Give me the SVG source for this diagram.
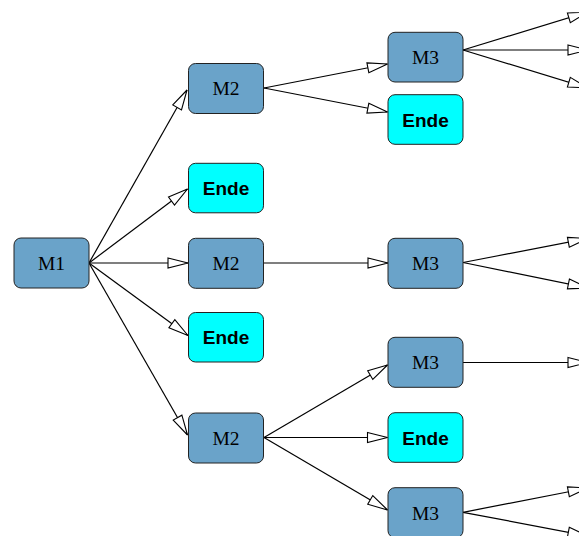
<svg xmlns="http://www.w3.org/2000/svg" width="579" height="536" viewBox="0 0 579 536">
<style>
.m rect{fill:#6aa3c9;stroke:#222;stroke-width:1}
.e rect{fill:#00ffff;stroke:#222;stroke-width:1}
.m text{font-family:"Liberation Serif","Times New Roman",serif;font-size:19.5px;fill:#000;text-anchor:middle}
.e text{font-family:"Liberation Sans",Arial,sans-serif;font-weight:bold;font-size:19px;fill:#000;text-anchor:middle}
#edges line{stroke:#000;stroke-width:1.2;fill:none;marker-end:url(#arr)}
</style>
<defs>
<marker id="arr" markerUnits="userSpaceOnUse" markerWidth="22" markerHeight="12" refX="20.5" refY="6" orient="auto" overflow="visible">
<path d="M0.5,1 L20.5,6 L0.5,11 Z" fill="#fff" stroke="#000" stroke-width="1.1"/>
</marker>
</defs>
<rect width="579" height="536" fill="#fff"/>
<g id="edges">
<line x1="89" y1="263" x2="187" y2="90"/>
<line x1="89" y1="263" x2="187.5" y2="189"/>
<line x1="89" y1="263" x2="188" y2="263"/>
<line x1="89" y1="263" x2="188" y2="335.5"/>
<line x1="89" y1="263" x2="187.5" y2="435"/>
<line x1="264" y1="88" x2="387.5" y2="64"/>
<line x1="264" y1="88" x2="387.5" y2="112"/>
<line x1="264" y1="263" x2="388" y2="263"/>
<line x1="264" y1="437.5" x2="387.5" y2="365"/>
<line x1="264" y1="437.5" x2="387.5" y2="437.5"/>
<line x1="264" y1="437.5" x2="387.5" y2="510"/>
<line x1="463" y1="50" x2="588" y2="12"/>
<line x1="463" y1="50" x2="588" y2="50"/>
<line x1="463" y1="50" x2="588" y2="88"/>
<line x1="463" y1="262.5" x2="588" y2="238.5"/>
<line x1="463" y1="262.5" x2="588" y2="288"/>
<line x1="463" y1="362.5" x2="588" y2="362.5"/>
<line x1="463" y1="512.3" x2="588" y2="488"/>
<line x1="463" y1="512.3" x2="588" y2="536"/>
</g>
<g id="m1" class="m"><rect x="14" y="238" width="75" height="50" rx="7"/><text x="51.5" y="270">M1</text></g>
<g id="m2a" class="m"><rect x="188.5" y="63.5" width="75" height="50" rx="7"/><text x="226" y="95.3">M2</text></g>
<g id="ende1" class="e"><rect x="188.5" y="163.3" width="75" height="49.5" rx="7"/><text x="226" y="195">Ende</text></g>
<g id="m2b" class="m"><rect x="188.5" y="238.3" width="75" height="50" rx="7"/><text x="226" y="270">M2</text></g>
<g id="ende2" class="e"><rect x="188.5" y="312.5" width="75" height="49.5" rx="7"/><text x="226" y="344">Ende</text></g>
<g id="m2c" class="m"><rect x="188.5" y="413" width="75" height="50" rx="7"/><text x="226" y="445">M2</text></g>
<g id="m3a" class="m"><rect x="388" y="32.3" width="75" height="49.7" rx="7"/><text x="425.5" y="64">M3</text></g>
<g id="ende3" class="e"><rect x="388" y="94.7" width="75" height="49.6" rx="7"/><text x="425.5" y="126.5">Ende</text></g>
<g id="m3b" class="m"><rect x="388" y="238.3" width="75" height="50" rx="7"/><text x="425.5" y="270">M3</text></g>
<g id="m3c" class="m"><rect x="388" y="337.3" width="75" height="50" rx="7"/><text x="425.5" y="369.3">M3</text></g>
<g id="ende4" class="e"><rect x="388" y="412.7" width="75" height="49.6" rx="7"/><text x="425.5" y="444.5">Ende</text></g>
<g id="m3d" class="m"><rect x="388" y="487.7" width="75" height="50" rx="7"/><text x="425.5" y="519.5">M3</text></g>
</svg>
